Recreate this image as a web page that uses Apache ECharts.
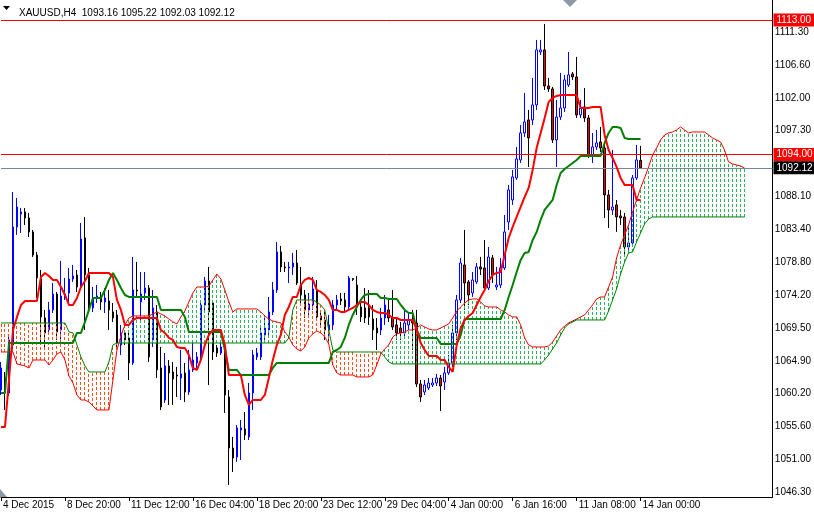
<!DOCTYPE html>
<html><head><meta charset="utf-8">
<script src="https://cdn.jsdelivr.net/npm/echarts@6/dist/echarts.min.js"></script>
<style>html,body{margin:0;padding:0;background:#fff;}#c{width:814px;height:516px;}</style>
</head><body><div id="c"></div>
<script>
// ---- data (H4 bars, index 0 = 4 Dec 2015 00:00) ----
const opens = [1060.74,1062.44,1060.32,1067.10,1083.77,1085.60,1085.89,1085.04,1083.06,1079.81,
1076.42,1070.91,1069.22,1072.05,1074.30,1069.22,1073.88,1074.45,1076.42,1076.99,
1075.29,1082.21,1076.99,1072.33,1073.74,1073.88,1073.18,1073.32,1071.76,1071.34,
1067.10,1068.80,1068.09,1064.56,1074.87,1073.18,1074.45,1075.15,1067.81,1071.76,
1063.85,1059.33,1064.14,1063.29,1062.86,1062.44,1063.15,1060.46,1063.57,1064.56,
1065.41,1072.75,1076.14,1073.03,1066.68,1065.97,1066.82,1059.76,1052.55,1051.28,
1055.10,1055.24,1054.11,1060.32,1065.41,1065.41,1068.51,1069.22,1071.76,1074.87,
1080.24,1078.12,1077.98,1078.12,1078.68,1075.57,1074.16,1072.05,1072.75,1074.87,
1071.20,1070.63,1069.22,1069.93,1072.75,1073.60,1073.46,1072.47,1076.49,1075.57,
1072.47,1072.33,1072.33,1070.77,1069.50,1069.22,1070.91,1072.05,1070.91,1069.93,
1069.50,1068.80,1069.93,1070.63,1070.21,1061.59,1060.46,1061.03,1061.45,1061.73,
1062.44,1061.87,1063.15,1064.56,1068.80,1073.46,1078.40,1076.00,1074.45,1076.00,
1078.12,1077.98,1075.15,1079.39,1075.29,1075.57,1077.98,1084.47,1087.58,1090.69,
1093.23,1097.04,1098.88,1098.88,1101.00,1108.48,1108.77,1103.68,1103.26,1096.06,
1099.30,1100.57,1103.82,1105.38,1104.95,1099.59,1100.72,1099.16,1093.94,1095.07,
1095.77,1094.92,1088.29,1086.17,1086.88,1085.32,1085.18,1080.94,1081.51,1090.69,
1093.16];
const highs = [1064.70,1063.29,1068.51,1088.71,1087.86,1086.45,1086.45,1085.75,1083.34,1080.24,
1077.69,1072.05,1073.18,1075.86,1074.59,1078.97,1076.56,1077.98,1078.40,1077.69,
1084.33,1085.18,1077.98,1075.29,1075.57,1074.59,1075.15,1074.87,1073.03,1072.05,
1069.93,1069.22,1069.22,1079.53,1078.82,1077.41,1077.41,1075.57,1074.87,1072.75,
1066.82,1065.97,1064.98,1064.70,1064.00,1066.40,1064.56,1066.40,1067.81,1066.11,
1073.46,1076.71,1078.12,1073.46,1067.10,1067.52,1067.81,1060.74,1054.11,1055.80,
1056.51,1057.64,1061.73,1066.40,1066.68,1069.93,1071.34,1073.88,1076.00,1081.65,
1081.08,1078.82,1078.82,1080.10,1080.52,1078.12,1074.87,1074.45,1076.71,1076.28,
1072.05,1072.05,1071.34,1073.46,1074.16,1074.45,1074.45,1076.85,1076.56,1076.85,
1073.46,1075.15,1074.87,1072.75,1070.91,1072.33,1074.16,1073.46,1074.87,1070.91,
1070.35,1072.05,1071.62,1072.05,1072.05,1062.16,1062.16,1062.44,1062.44,1063.01,
1062.86,1064.00,1065.69,1069.93,1074.16,1079.39,1083.34,1076.28,1077.41,1078.68,
1079.53,1081.93,1080.94,1079.81,1078.12,1079.39,1085.46,1089.70,1091.82,1095.07,
1098.17,1102.70,1100.29,1104.81,1110.18,1110.18,1112.44,1104.81,1103.54,1101.71,
1105.52,1105.24,1108.48,1105.66,1107.78,1101.71,1103.40,1099.59,1097.04,1097.47,
1097.89,1095.35,1089.00,1094.64,1087.58,1086.17,1085.75,1084.05,1091.11,1095.35,
1095.22];
const lows = [1060.04,1057.92,1059.90,1066.40,1082.64,1082.92,1084.05,1082.35,1079.53,1073.74,
1067.38,1066.82,1068.80,1071.62,1067.81,1067.81,1073.46,1073.18,1076.00,1074.59,
1074.87,1069.22,1071.76,1071.76,1073.03,1072.05,1071.62,1069.22,1070.35,1066.40,
1065.69,1067.10,1062.16,1064.28,1073.88,1070.63,1073.46,1064.70,1066.82,1062.44,
1057.92,1058.91,1058.63,1058.63,1059.76,1059.33,1059.05,1060.04,1063.29,1063.85,
1064.70,1072.05,1061.45,1064.98,1065.41,1065.69,1057.50,1047.33,1049.16,1050.58,
1050.86,1053.68,1053.68,1057.92,1064.98,1064.98,1067.81,1068.51,1071.34,1074.45,
1077.41,1077.41,1075.86,1076.99,1075.57,1073.03,1070.91,1071.34,1072.05,1070.63,
1069.93,1067.81,1067.38,1069.22,1072.05,1072.75,1071.76,1072.05,1076.14,1071.34,
1070.35,1070.21,1069.93,1067.81,1066.40,1068.51,1069.93,1070.35,1069.22,1067.81,
1067.81,1068.23,1069.22,1066.40,1061.17,1059.05,1060.04,1060.74,1061.17,1061.31,
1057.78,1060.74,1062.86,1064.00,1067.81,1073.03,1072.05,1072.75,1073.88,1075.72,
1076.99,1074.87,1074.87,1075.86,1074.87,1075.15,1077.69,1083.34,1086.88,1090.41,
1092.81,1096.48,1092.24,1098.17,1100.29,1108.06,1103.12,1102.84,1095.63,1092.24,
1098.88,1100.01,1103.54,1104.53,1099.16,1099.16,1098.60,1093.51,1092.81,1094.64,
1094.36,1085.04,1083.63,1085.46,1083.06,1084.05,1079.81,1080.52,1080.94,1090.41,
1092.03];
const closes = [1063.85,1061.17,1067.81,1083.77,1086.59,1085.89,1085.04,1083.06,1079.81,1076.56,
1071.06,1068.80,1072.05,1074.30,1068.94,1074.02,1074.30,1076.42,1076.85,1075.29,
1082.07,1076.99,1072.47,1073.74,1074.02,1073.18,1073.74,1072.05,1070.91,1067.38,
1068.80,1067.81,1064.56,1074.87,1074.73,1074.30,1075.15,1065.41,1072.33,1063.57,
1058.35,1064.14,1063.15,1062.30,1062.72,1063.01,1060.46,1063.57,1064.98,1065.41,
1072.75,1076.14,1071.76,1066.11,1065.97,1066.82,1060.04,1052.55,1051.14,1055.38,
1055.38,1054.39,1060.32,1065.69,1065.97,1068.80,1069.50,1071.76,1074.87,1080.24,
1078.12,1077.98,1078.12,1078.68,1075.86,1074.16,1072.05,1072.89,1075.01,1071.06,
1070.63,1069.22,1069.93,1072.75,1073.46,1073.32,1072.47,1076.56,1076.35,1072.47,
1071.06,1070.91,1071.06,1069.22,1068.80,1070.91,1072.75,1070.91,1069.64,1068.80,
1068.80,1070.21,1070.63,1070.21,1061.59,1059.76,1061.45,1061.73,1061.73,1062.44,
1061.31,1063.15,1064.56,1068.80,1073.46,1078.68,1075.86,1074.16,1076.28,1078.12,
1077.83,1075.15,1079.53,1076.99,1075.57,1077.98,1083.06,1089.00,1090.83,1093.37,
1097.04,1098.60,1096.34,1101.00,1108.77,1108.77,1103.68,1103.26,1096.06,1099.30,
1100.57,1104.53,1105.24,1104.95,1099.59,1100.57,1099.16,1093.94,1095.07,1095.63,
1094.92,1088.29,1086.17,1086.59,1085.18,1085.04,1080.94,1081.51,1090.69,1093.23,
1092.12];
// Tenkan-sen [bar, value]
const tenkan = [[0,1055.52],[1,1055.52],[2,1062.16],[3,1069.22],[4,1071.06],[5,1072.75],[6,1073.32],[9,1073.32],[10,1076.71],[11,1077.27],[12,1076.85],[13,1076.28],[14,1076.28],[15,1075.29],[16,1074.16],[17,1072.75],[18,1072.75],[19,1073.74],[20,1075.29],[21,1076.14],[22,1077.27],[27,1077.27],[28,1076.71],[29,1073.46],[30,1072.05],[31,1069.93],[32,1069.93],[33,1070.63],[34,1070.91],[39,1070.91],[40,1069.22],[41,1068.80],[42,1068.09],[43,1067.81],[44,1066.82],[45,1066.68],[46,1066.68],[47,1065.69],[48,1063.85],[49,1063.57],[50,1064.98],[51,1067.10],[52,1068.51],[53,1069.22],[55,1069.22],[56,1067.10],[57,1062.86],[60,1062.86],[61,1060.04],[62,1058.63],[63,1059.33],[65,1059.33],[66,1060.04],[67,1062.44],[68,1064.98],[69,1067.10],[70,1068.51],[71,1071.34],[72,1072.47],[73,1073.88],[74,1073.88],[75,1075.57],[76,1076.28],[77,1076.56],[78,1076.28],[79,1074.87],[80,1074.59],[81,1074.16],[82,1073.46],[83,1072.05],[84,1072.05],[85,1071.76],[86,1071.76],[87,1072.05],[88,1072.33],[89,1072.75],[90,1073.18],[91,1073.18],[92,1072.75],[93,1072.05],[94,1071.76],[95,1071.62],[96,1071.62],[97,1071.34],[98,1070.91],[99,1070.91],[100,1070.63],[103,1070.63],[104,1069.22],[105,1067.38],[106,1066.40],[107,1065.55],[109,1065.55],[110,1064.98],[111,1064.98],[112,1064.00],[113,1063.29],[114,1067.10],[115,1069.50],[116,1070.63],[117,1071.20],[118,1071.62],[119,1072.75],[120,1073.88],[121,1074.87],[122,1076.14],[123,1076.99],[124,1077.27],[125,1077.41],[126,1079.81],[127,1082.21],[128,1083.77],[129,1085.18],[130,1086.59],[131,1088.00],[132,1089.28],[133,1091.82],[134,1094.92],[135,1097.04],[136,1099.16],[137,1101.42],[138,1101.99],[139,1102.27],[140,1102.41],[144,1102.41],[145,1100.57],[147,1100.57],[148,1100.72],[150,1100.72],[151,1096.76],[152,1094.64],[153,1093.51],[154,1092.24],[155,1090.69],[156,1089.70],[158,1089.70],[159,1087.58],[160,1087.58]];
// Kijun-sen [bar, value]
const kijun = [[0,1060.32],[1,1060.32],[2,1067.38],[18,1067.38],[19,1068.80],[20,1068.80],[21,1070.35],[22,1072.05],[23,1073.74],[25,1073.74],[26,1074.87],[27,1076.28],[28,1077.27],[29,1076.28],[30,1075.15],[31,1074.16],[32,1073.88],[39,1073.88],[40,1072.05],[45,1072.05],[46,1071.06],[47,1068.94],[55,1068.94],[56,1066.40],[57,1063.57],[59,1063.57],[60,1062.86],[67,1062.86],[68,1063.85],[69,1064.56],[82,1064.56],[83,1066.11],[84,1066.40],[85,1066.82],[86,1068.09],[87,1069.93],[88,1071.34],[89,1072.47],[90,1073.46],[91,1074.16],[92,1074.30],[94,1074.30],[95,1073.74],[96,1073.74],[97,1073.60],[99,1073.60],[100,1072.75],[101,1072.05],[102,1071.62],[103,1071.62],[104,1069.22],[105,1068.09],[109,1068.09],[110,1067.24],[114,1067.24],[115,1068.51],[116,1070.77],[125,1070.77],[126,1072.05],[127,1073.88],[128,1075.57],[129,1077.41],[130,1079.11],[131,1080.10],[132,1080.24],[133,1081.93],[134,1083.06],[135,1084.76],[136,1086.17],[137,1086.88],[138,1087.58],[139,1089.70],[140,1091.39],[141,1091.96],[142,1092.38],[143,1092.81],[144,1093.23],[145,1093.79],[150,1093.79],[151,1095.63],[152,1097.04],[153,1097.89],[154,1097.89],[155,1097.75],[156,1096.34],[157,1096.19],[160,1096.19]];
// Senkou Span A (per bar, shifted 26 ahead)
const spanA = [1066.11,1066.11,1066.11,1066.11,1064.42,1064.28,1064.14,1063.85,1064.98,1064.98,
1064.98,1064.98,1064.28,1064.98,1065.83,1066.11,1064.98,1062.72,1061.73,1060.04,
1059.33,1059.33,1059.05,1058.49,1057.92,1057.92,1057.92,1057.92,1062.16,1066.40,
1068.37,1069.93,1070.91,1071.20,1071.20,1071.20,1071.20,1071.20,1071.48,1071.76,
1071.48,1071.20,1070.77,1070.35,1070.07,1071.06,1071.90,1073.18,1074.45,1075.29,
1075.29,1075.29,1075.43,1076.28,1077.13,1076.42,1074.87,1073.18,1071.76,1072.19,
1072.19,1072.19,1072.19,1072.19,1072.19,1071.76,1071.20,1070.77,1070.49,1070.35,
1070.21,1068.94,1068.23,1067.10,1066.54,1066.25,1066.82,1068.09,1068.66,1069.08,
1068.80,1068.23,1067.24,1064.28,1063.15,1062.86,1062.86,1062.86,1062.86,1062.58,
1062.58,1062.58,1062.58,1062.86,1064.28,1065.83,1066.54,1067.10,1068.23,1068.66,
1068.80,1068.94,1069.22,1069.22,1069.50,1069.93,1069.64,1069.36,1069.22,1069.22,
1069.50,1069.79,1070.07,1070.91,1071.90,1072.47,1073.03,1073.46,1073.60,1073.60,
1073.18,1072.61,1072.47,1072.47,1072.47,1072.05,1071.76,1071.34,1071.06,1071.06,
1069.93,1068.09,1067.10,1066.82,1066.82,1066.82,1066.82,1066.96,1067.52,1068.37,
1069.22,1069.79,1070.21,1070.49,1070.77,1071.06,1071.34,1072.05,1072.75,1073.60,
1073.88,1073.88,1075.29,1076.71,1079.39,1081.23,1082.64,1084.05,1085.89,1087.58,
1089.28,1090.69,1092.24,1093.94,1094.92,1096.06,1096.76,1097.04,1097.18,1097.47,
1097.89,1097.47,1097.04,1097.18,1097.18,1097.18,1097.18,1096.76,1096.34,1096.06,
1095.77,1094.64,1092.95,1092.67,1092.53,1092.38,1092.10];
// Senkou Span B (per bar, shifted 26 ahead)
const spanB = [1070.21,1070.21,1070.21,1070.21,1070.21,1070.21,1070.21,1070.21,1070.21,1070.21,
1070.21,1070.21,1070.21,1070.21,1070.21,1070.21,1070.21,1068.94,1068.80,1067.10,
1065.41,1064.14,1063.29,1063.29,1063.29,1063.29,1063.29,1064.70,1067.10,1067.38,
1067.38,1067.38,1067.38,1067.38,1067.38,1067.38,1067.38,1067.38,1067.38,1067.38,
1067.38,1067.38,1067.38,1067.38,1067.38,1067.38,1067.38,1067.38,1067.38,1067.38,
1067.38,1067.38,1067.38,1067.38,1067.38,1067.38,1067.38,1067.38,1067.38,1067.38,
1067.38,1067.38,1067.38,1067.38,1067.38,1067.38,1067.38,1067.38,1067.38,1067.38,
1067.38,1067.38,1068.09,1072.05,1073.46,1073.46,1073.46,1073.46,1073.46,1073.18,
1072.75,1072.05,1069.22,1066.40,1066.11,1066.11,1066.11,1066.11,1066.11,1066.11,
1066.11,1066.11,1066.11,1066.11,1066.11,1066.11,1065.41,1064.70,1064.42,1064.42,
1064.42,1064.42,1064.42,1064.42,1064.42,1064.42,1064.42,1064.42,1064.42,1064.42,
1064.42,1064.42,1064.42,1064.42,1064.42,1064.42,1064.42,1064.42,1064.42,1064.42,
1064.42,1064.42,1064.42,1064.42,1064.42,1064.42,1064.42,1064.42,1064.42,1064.42,
1064.42,1064.42,1064.42,1064.42,1064.42,1064.42,1064.98,1065.69,1066.54,1067.38,
1068.51,1069.50,1070.07,1070.35,1070.63,1070.63,1070.63,1070.63,1070.63,1070.63,
1070.63,1070.63,1071.90,1073.46,1075.01,1077.13,1078.82,1080.10,1080.24,1081.65,
1082.92,1084.19,1084.89,1085.18,1085.18,1085.18,1085.18,1085.18,1085.18,1085.18,
1085.18,1085.18,1085.18,1085.18,1085.18,1085.18,1085.18,1085.18,1085.18,1085.18,
1085.18,1085.18,1085.18,1085.18,1085.18,1085.18,1085.18];
const levelLines = [1113.00, 1094.00];
const lastPrice = 1092.12;
const xTickIndex = [0,16,32,48,64,80,96,112,128,144,160];
const xTickLabels = ['4 Dec 2015','8 Dec 20:00','11 Dec 12:00','16 Dec 04:00','18 Dec 20:00','23 Dec 12:00','29 Dec 04:00','4 Jan 00:00','6 Jan 16:00','11 Jan 08:00','14 Jan 00:00'];
const yTickLabels = ['1046.30','1051.00','1055.60','1060.20','1064.90','1069.50','1074.20','1078.80','1083.40','1088.10','1092.70','1097.30','1102.00','1106.60','1111.30'];
const headerText = 'XAUUSD,H4  1093.16 1095.22 1092.03 1092.12';

// ---- chart ----
const SLOTS = 194;
const cats = [];
for (let i = 0; i < SLOTS; i++) cats.push(String(i));
const candleData = opens.map((o, i) => [o, closes[i], lows[i], highs[i]]);
const cloudData = spanA.map((a, i) => [i, a, spanB[i]]);
const FONT = 'Liberation Sans';
const yLabMin = 1046.3, yLabMax = 1111.3, yStep = (yLabMax - yLabMin) / 14;
const GREEN_HATCH = '#28b45a', RED_HATCH = '#ff5014';

// each cloud bar: a vertical column of short dashes between span A and span B
function renderHatch(params, api) {
  const k = api.value(0), a = api.value(1), b = api.value(2);
  const p1 = api.coord([k, a]), p2 = api.coord([k, b]);
  const x = Math.floor(p1[0]);
  const top = Math.min(p1[1], p2[1]), bot = Math.max(p1[1], p2[1]);
  const fill = a >= b ? GREEN_HATCH : RED_HATCH;
  const children = [];
  for (let y = Math.round(bot) - 3; y > top - 2; y -= 5) {
    const y0 = Math.max(y, Math.round(top));
    const h = Math.min(3, y + 3 - y0);
    if (h > 0) children.push({type: 'rect', shape: {x: x, y: y0, width: 1, height: h}, style: {fill: fill}});
  }
  return {type: 'group', children: children};
}

const chart = echarts.init(document.getElementById('c'), null, {renderer: 'canvas'});
chart.setOption({
  animation: false,
  backgroundColor: '#ffffff',
  title: {text: headerText, left: 14, top: 3, textStyle: {fontSize: 10, fontWeight: 'normal', color: '#000', fontFamily: FONT}},
  grid: [
    {left: 0.5, right: 41.5, top: 0, bottom: 19, show: false},
    {left: 0.5, right: 41.5, top: 32.04, bottom: 23.76, show: false}
  ],
  xAxis: [
    {type: 'category', gridIndex: 0, data: cats, boundaryGap: false,
     axisLine: {show: true, lineStyle: {color: '#000', width: 1}},
     axisTick: {show: true, interval: (i) => xTickIndex.indexOf(i) >= 0, length: 4, lineStyle: {color: '#000'}},
     axisLabel: {interval: 0, margin: 3, align: 'left', padding: [0, 0, 0, 2], fontSize: 10, color: '#000', fontFamily: FONT,
       formatter: (v, i) => { const j = xTickIndex.indexOf(i); return j >= 0 ? xTickLabels[j] : ''; }},
     splitLine: {show: false}},
    {type: 'value', gridIndex: 1, show: false, min: -1, max: 0}
  ],
  yAxis: [
    {type: 'value', gridIndex: 0, position: 'right', min: 1045.63, max: 1115.82,
     axisLine: {show: true, lineStyle: {color: '#000', width: 1}}, axisTick: {show: false}, axisLabel: {show: false}, splitLine: {show: false}},
    {type: 'value', gridIndex: 1, position: 'right', min: yLabMin, max: yLabMax, interval: yStep,
     axisLine: {show: false, onZero: false},
     axisTick: {show: false},
     axisLabel: {margin: 6, fontSize: 10, color: '#000', fontFamily: FONT,
       formatter: (v) => yTickLabels[Math.round((v - yLabMin) / yStep)] || ''},
     splitLine: {show: false}}
  ],
  graphic: [
    {type: 'polygon', shape: {points: [[3, 6], [10, 6], [6.5, 10]]}, style: {fill: '#000'}},
    {type: 'polygon', shape: {points: [[563, 0], [577, 0], [570, 7]]}, style: {fill: '#8c99a6'}},
    {type: 'polygon', shape: {points: [[0, 489], [0, 497], [7, 497]]}, style: {fill: '#8c99a6'}}
  ],
  series: [
    {type: 'candlestick', xAxisIndex: 0, yAxisIndex: 0, data: candleData, barWidth: 2, z: 2,
     itemStyle: {color: '#ffffff', color0: '#ff0000', borderColor: '#0000ff', borderColor0: '#000000', borderWidth: 1},
     markLine: {silent: true, symbol: ['none', 'none'], animation: false,
       data: [
         {yAxis: levelLines[0], lineStyle: {color: '#ff0000', width: 1, type: 'solid'},
          label: {show: true, position: 'end', distance: 1, formatter: (p) => p.value.toFixed(2), color: '#fff', backgroundColor: '#ff0000', padding: [2, 3, 1, 3], fontSize: 10, fontFamily: FONT}},
         {yAxis: levelLines[1], lineStyle: {color: '#ff0000', width: 1, type: 'solid'},
          label: {show: true, position: 'end', distance: 1, formatter: (p) => p.value.toFixed(2), color: '#fff', backgroundColor: '#ff0000', padding: [2, 3, 1, 3], fontSize: 10, fontFamily: FONT}},
         {yAxis: lastPrice, lineStyle: {color: '#778899', width: 1, type: 'solid'},
          label: {show: true, position: 'end', distance: 1, formatter: (p) => p.value.toFixed(2), color: '#fff', backgroundColor: '#000000', padding: [2, 3, 1, 3], fontSize: 10, fontFamily: FONT}}
       ]}},
    {type: 'custom', name: 'Cloud', xAxisIndex: 0, yAxisIndex: 0, data: cloudData, encode: {x: 0, y: [1, 2]}, z: 3, silent: true,
     renderItem: renderHatch},
    {type: 'line', name: 'Senkou A', xAxisIndex: 0, yAxisIndex: 0, data: spanA, showSymbol: false, z: 4, silent: true,
     lineStyle: {color: '#ff0000', width: 1}},
    {type: 'line', name: 'Senkou B', xAxisIndex: 0, yAxisIndex: 0, data: spanB, showSymbol: false, z: 4, silent: true,
     lineStyle: {color: '#008000', width: 1}},
    {type: 'line', name: 'Kijun', xAxisIndex: 0, yAxisIndex: 0, data: kijun, showSymbol: false, z: 5, silent: true,
     lineStyle: {color: '#008000', width: 2}},
    {type: 'line', name: 'Tenkan', xAxisIndex: 0, yAxisIndex: 0, data: tenkan, showSymbol: false, z: 6, silent: true,
     lineStyle: {color: '#ff0000', width: 2}}
  ]
});
</script>
</body></html>
